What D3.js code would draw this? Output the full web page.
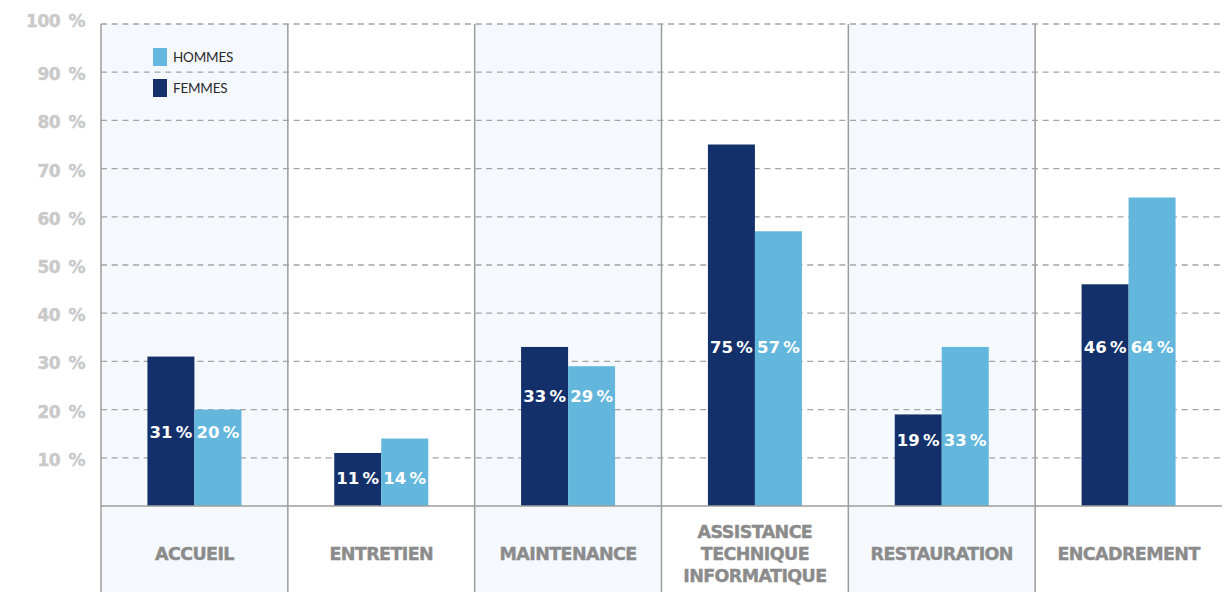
<!DOCTYPE html>
<html>
<head>
<meta charset="utf-8">
<script src="https://cdn.jsdelivr.net/npm/d3@7"></script>
<style>
  html, body { margin: 0; padding: 0; background: #fff; }
  svg { display: block; }
</style>
</head>
<body>
<svg id="chart" width="1232" height="592"></svg>
<script>
// Métiers (catégories) et répartition par sexe, en %
const categories = ["ACCUEIL", "ENTRETIEN", "MAINTENANCE", "ASSISTANCE\nTECHNIQUE\nINFORMATIQUE", "RESTAURATION", "ENCADREMENT"];
const femmes = [31, 11, 33, 75, 19, 46];
const hommes = [20, 14, 29, 57, 33, 64];
const seriesNames = ["HOMMES", "FEMMES"];
const yTicks = [10, 20, 30, 40, 50, 60, 70, 80, 90, 100];

const DARK = "#13306a", LIGHT = "#63b6dc";
const svg = d3.select("#chart");
const plotLeft = 101, plotRight = 1222, plotTop = 24, plotBase = 506, plotBottom = 592;

const x = d3.scaleBand().domain(d3.range(categories.length)).range([plotLeft, plotRight]).padding(0);
const y = d3.scaleLinear().domain([0, 100]).range([plotBase, plotTop]);
const barW = 47;

// alternating column shading
svg.selectAll("rect.bg").data(d3.range(categories.length).filter(i => i % 2 === 0))
  .join("rect").attr("class", "bg")
  .attr("x", i => x(i)).attr("y", plotTop)
  .attr("width", x.bandwidth()).attr("height", plotBottom - plotTop)
  .attr("fill", "#f5f9fe");

// dashed gridlines
svg.selectAll("line.grid").data(yTicks).join("line").attr("class", "grid")
  .attr("x1", plotLeft).attr("x2", plotRight)
  .attr("y1", d => y(d)).attr("y2", d => y(d))
  .attr("stroke", "#a4a4a4").attr("stroke-width", 1.3)
  .attr("stroke-dasharray", "6,4.7");

// y labels
svg.selectAll("text.ylab").data(yTicks).join("text").attr("class", "ylab")
  .attr("x", 85).attr("y", d => y(d) + (d === 100 ? 3 : 8))
  .attr("text-anchor", "end")
  .attr("font-family", "DejaVu Sans").attr("font-weight", "bold").attr("font-size", 17)
  .attr("letter-spacing", -0.5).attr("word-spacing", 3)
  .attr("stroke", "#c9c9c9").attr("stroke-width", 0.4)
  .attr("fill", "#c9c9c9")
  .text(d => d + " %");

// bars
const groups = svg.selectAll("g.cat").data(categories).join("g").attr("class", "cat");
const cx = i => x(i) + x.bandwidth() / 2;
groups.append("rect")
  .attr("x", (d, i) => cx(i) - barW).attr("y", (d, i) => y(femmes[i]))
  .attr("width", barW).attr("height", (d, i) => plotBase - y(femmes[i]))
  .attr("fill", DARK);
groups.append("rect")
  .attr("x", (d, i) => cx(i)).attr("y", (d, i) => y(hommes[i]))
  .attr("width", barW).attr("height", (d, i) => plotBase - y(hommes[i]))
  .attr("fill", LIGHT);

// vertical separators
svg.selectAll("line.sep").data(d3.range(categories.length)).join("line").attr("class", "sep")
  .attr("x1", i => x(i)).attr("x2", i => x(i))
  .attr("y1", plotTop).attr("y2", plotBottom)
  .attr("stroke", "#9c9c9c").attr("stroke-width", 1.5);

// baseline
svg.append("line")
  .attr("x1", plotLeft).attr("x2", plotRight).attr("y1", plotBase).attr("y2", plotBase)
  .attr("stroke", "#9c9c9c").attr("stroke-width", 1.5);

// value labels inside the bars (level in % units)
const labelLevel = [15.4, 6, 23, 33, 13.7, 33];
const valueLabel = v => v + "\u202F%";
const drawValues = (vals, dx) => groups.append("text")
  .attr("x", (d, i) => cx(i) + dx).attr("y", (d, i) => y(labelLevel[i]) + 6.5)
  .attr("text-anchor", "middle").attr("fill", "#fff")
  .attr("font-family", "DejaVu Sans").attr("font-weight", "bold").attr("font-size", 16.5)
  .attr("letter-spacing", -0.8)
  .text((d, i) => valueLabel(vals[i]));
drawValues(femmes, -barW / 2);
drawValues(hommes, barW / 2);

// category labels
groups.each(function(d, i) {
  const lines = d.split("\n");
  const lh = 22, mid = 553;
  const t = d3.select(this).append("text")
    .attr("text-anchor", "middle").attr("fill", "#8b8b8b")
    .attr("stroke", "#8b8b8b").attr("stroke-width", 0.4)
    .attr("font-family", "DejaVu Sans").attr("font-weight", "bold").attr("font-size", 17.5)
    .attr("letter-spacing", -0.6);
  lines.forEach((l, k) => {
    t.append("tspan").attr("x", cx(i))
      .attr("y", mid + 6.5 + (k - (lines.length - 1) / 2) * lh)
      .text(l);
  });
});

// legend
const legend = svg.append("g");
const legendColors = [LIGHT, DARK];
seriesNames.forEach((name, k) => {
  legend.append("rect").attr("x", 153).attr("y", 48 + k * 31)
    .attr("width", 14).attr("height", 18).attr("fill", legendColors[k]);
  legend.append("text").attr("x", 173).attr("y", 62 + k * 31)
    .attr("font-family", "Lato").attr("font-size", 13.5).attr("fill", "#2a2a2a")
    .attr("letter-spacing", -0.2)
    .text(name);
});
</script>
</body>
</html>
